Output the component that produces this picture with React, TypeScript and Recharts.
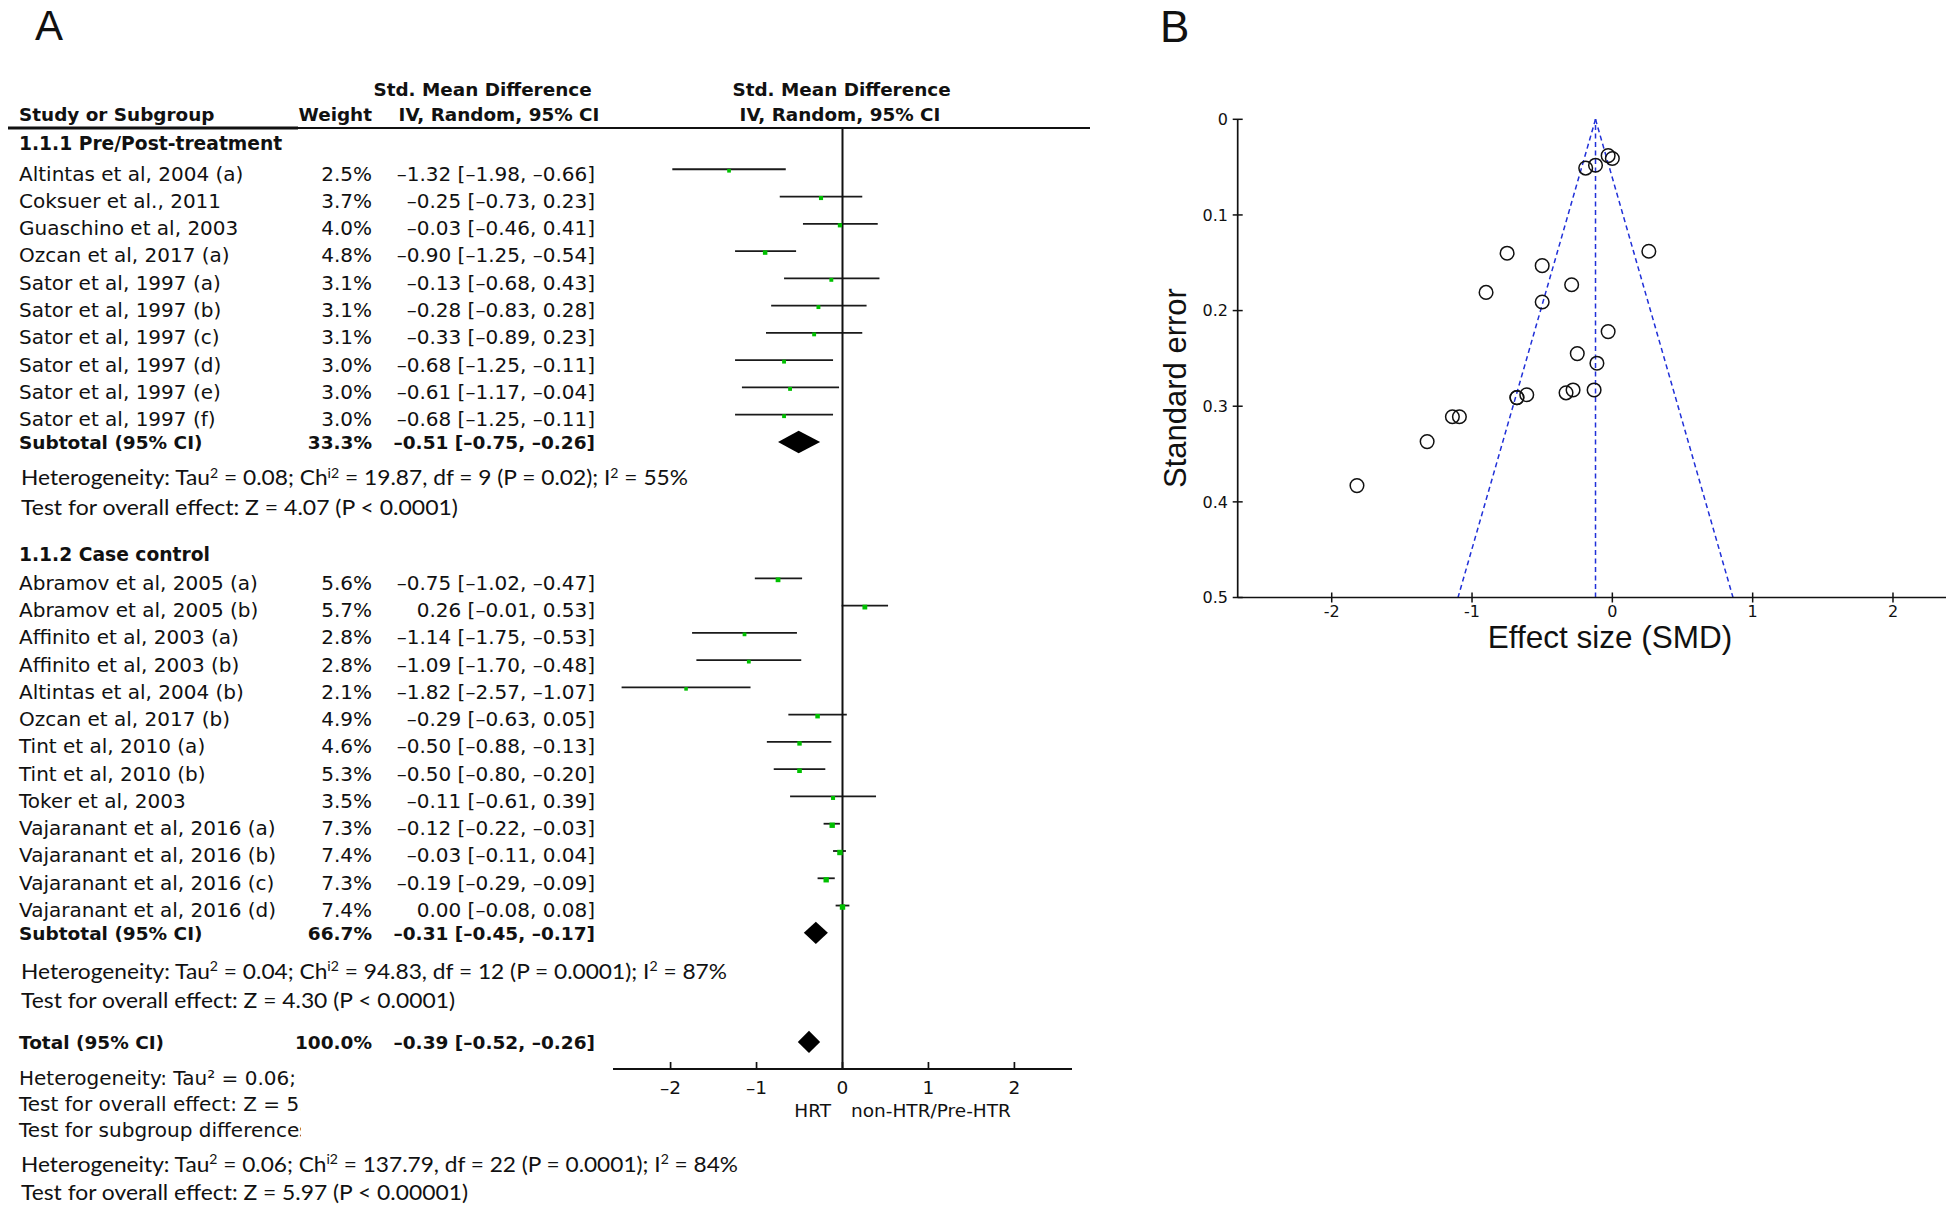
import React from 'react';
import { ComposedChart, ScatterChart, Scatter, XAxis, YAxis, ReferenceLine, ReferenceArea } from 'recharts';

// ---------------- Panel A data ----------------
const subgroupTitles = ['1.1.1 Pre/Post-treatment', '1.1.2 Case control'];

const preNames = [
  'Altintas et al, 2004 (a)', 'Coksuer et al., 2011', 'Guaschino et al, 2003', 'Ozcan et al, 2017 (a)',
  'Sator et al, 1997 (a)', 'Sator et al, 1997 (b)', 'Sator et al, 1997 (c)', 'Sator et al, 1997 (d)',
  'Sator et al, 1997 (e)', 'Sator et al, 1997 (f)',
];
const preWeights = [2.5, 3.7, 4.0, 4.8, 3.1, 3.1, 3.1, 3.0, 3.0, 3.0];
const preSmd = [-1.32, -0.25, -0.03, -0.90, -0.13, -0.28, -0.33, -0.68, -0.61, -0.68];
const preLower = [-1.98, -0.73, -0.46, -1.25, -0.68, -0.83, -0.89, -1.25, -1.17, -1.25];
const preUpper = [-0.66, 0.23, 0.41, -0.54, 0.43, 0.28, 0.23, -0.11, -0.04, -0.11];

const ccNames = [
  'Abramov et al, 2005 (a)', 'Abramov et al, 2005 (b)', 'Affinito et al, 2003 (a)', 'Affinito et al, 2003 (b)',
  'Altintas et al, 2004 (b)', 'Ozcan et al, 2017 (b)', 'Tint et al, 2010 (a)', 'Tint et al, 2010 (b)',
  'Toker et al, 2003', 'Vajaranant et al, 2016 (a)', 'Vajaranant et al, 2016 (b)', 'Vajaranant et al, 2016 (c)',
  'Vajaranant et al, 2016 (d)',
];
const ccWeights = [5.6, 5.7, 2.8, 2.8, 2.1, 4.9, 4.6, 5.3, 3.5, 7.3, 7.4, 7.3, 7.4];
const ccSmd = [-0.75, 0.26, -1.14, -1.09, -1.82, -0.29, -0.50, -0.50, -0.11, -0.12, -0.03, -0.19, 0.00];
const ccLower = [-1.02, -0.01, -1.75, -1.70, -2.57, -0.63, -0.88, -0.80, -0.61, -0.22, -0.11, -0.29, -0.08];
const ccUpper = [-0.47, 0.53, -0.53, -0.48, -1.07, 0.05, -0.13, -0.20, 0.39, -0.03, 0.04, -0.09, 0.08];

const subtotalWeights = [33.3, 66.7];
const subtotalSmd = [-0.51, -0.31];
const subtotalLower = [-0.75, -0.45];
const subtotalUpper = [-0.26, -0.17];

const totalWeight = [100.0];
const totalSmd = [-0.39];
const totalLower = [-0.52];
const totalUpper = [-0.26];

const hetTau2 = ['0.08', '0.04', '0.06'];
const hetChi2 = ['19.87', '94.83', '137.79'];
const hetDf = [9, 12, 22];
const hetP = ['0.02', '0.0001', '0.0001'];
const hetI2 = [55, 87, 84];
const overallZ = ['4.07', '4.30', '5.97'];
const overallP = ['P < 0.0001', 'P < 0.0001', 'P < 0.00001'];
// the three lines under "Total" are cut off at the column edge in the figure
const truncatedLines = ['Heterogeneity: Tau\u00B2 = 0.06; C', 'Test for overall effect: Z = 5.9', 'Test for subgroup differences'];

const forestTicks = [-2, -1, 0, 1, 2];
const favoursLabels = ['HRT', 'non-HTR/Pre-HTR'];

// ---------------- Panel B data ----------------
const funnelSmd = [
  -1.32, -0.25, -0.03, -0.90, -0.13, -0.28, -0.33, -0.68, -0.61, -0.68,
  -0.75, 0.26, -1.14, -1.09, -1.82, -0.29, -0.50, -0.50, -0.11, -0.12, -0.03, -0.19, 0.00,
];
const funnelSe = [
  0.337, 0.245, 0.222, 0.181, 0.283, 0.283, 0.286, 0.291, 0.288, 0.291,
  0.140, 0.138, 0.311, 0.311, 0.383, 0.173, 0.191, 0.153, 0.255, 0.048, 0.038, 0.051, 0.041,
];
const funnelTicksX = [-2, -1, 0, 1, 2];
const funnelTicksY = [0, 0.1, 0.2, 0.3, 0.4, 0.5];
const funnelCentre = -0.12;
const funnelMaxSe = 0.5;

// ---------------- layout (row slots) ----------------
const headerSlots = [0, 15.06];
const preFirstSlot = 1;
const ccFirstSlot = 16;
const subtotalSlots = [11, 29];
const totalSlot = 33;
const hetSlots = [12.33, 30.44];
const testSlots = [13.42, 31.5];
const forestDomain: [number, number] = [-0.513, 33.994];

const ROW_FONT = "'DejaVu Sans', Verdana, sans-serif";
const CAL_FONT = "Lato, 'Open Sans', sans-serif";
const ARIAL_FONT = "'Liberation Sans', Arial, sans-serif";
const INK = '#111';

const fmt = (v: number) => (v < 0 ? '\u2013' : '') + Math.abs(v).toFixed(2);
const ciText = (s: number, lo: number, hi: number) => `${fmt(s)} [${fmt(lo)}, ${fmt(hi)}]`;

type Row = {
  pos: number;
  kind: 'header' | 'study' | 'subtotal' | 'total' | 'het' | 'test';
  label?: string;
  weight?: number;
  smd?: number;
  lo?: number;
  hi?: number;
  idx?: number;
};

const forestRows: Row[] = [];
forestRows.push({ pos: headerSlots[0], kind: 'header', label: subgroupTitles[0] });
preNames.forEach((n, i) =>
  forestRows.push({ pos: preFirstSlot + i, kind: 'study', label: n, weight: preWeights[i], smd: preSmd[i], lo: preLower[i], hi: preUpper[i] }),
);
forestRows.push({ pos: subtotalSlots[0], kind: 'subtotal', label: 'Subtotal (95% CI)', weight: subtotalWeights[0], smd: subtotalSmd[0], lo: subtotalLower[0], hi: subtotalUpper[0] });
forestRows.push({ pos: hetSlots[0], kind: 'het', idx: 0 });
forestRows.push({ pos: testSlots[0], kind: 'test', idx: 0 });
forestRows.push({ pos: headerSlots[1], kind: 'header', label: subgroupTitles[1] });
ccNames.forEach((n, i) =>
  forestRows.push({ pos: ccFirstSlot + i, kind: 'study', label: n, weight: ccWeights[i], smd: ccSmd[i], lo: ccLower[i], hi: ccUpper[i] }),
);
forestRows.push({ pos: subtotalSlots[1], kind: 'subtotal', label: 'Subtotal (95% CI)', weight: subtotalWeights[1], smd: subtotalSmd[1], lo: subtotalLower[1], hi: subtotalUpper[1] });
forestRows.push({ pos: hetSlots[1], kind: 'het', idx: 1 });
forestRows.push({ pos: testSlots[1], kind: 'test', idx: 1 });
forestRows.push({ pos: totalSlot, kind: 'total', label: 'Total (95% CI)', weight: totalWeight[0], smd: totalSmd[0], lo: totalLower[0], hi: totalUpper[0] });

const studyRows = forestRows.filter((r) => r.kind === 'study');
const pooledRows = forestRows.filter((r) => r.kind === 'subtotal' || r.kind === 'total');
const studyPoints = studyRows.map((r) => ({ x: r.smd as number, y: r.pos, w: r.weight as number }));
const funnelPoints = funnelSmd.map((s, i) => ({ x: s, y: funnelSe[i] }));

// ---------------- text helpers ----------------
type Part = [string, boolean];
const hetParts = (i: number): Part[] => [
  ['Heterogeneity: Tau', false], ['2', true], [` = ${hetTau2[i]}; Ch`, false], ['i2', true],
  [` = ${hetChi2[i]}, df = ${hetDf[i]} (P = ${hetP[i]}); I`, false], ['2', true], [` = ${hetI2[i]}%`, false],
];
const testParts = (i: number): Part[] => [[`Test for overall effect: Z = ${overallZ[i]} (${overallP[i]})`, false]];
const hetLengths = [667, 706, 717];
const testLengths = [437, 434, 447];
const STAT_SIZE = 21;

const StatText = ({ x, y, parts, size, length }: { x: number; y: number; parts: Part[]; size: number; length?: number }) => {
  let shift = 0;
  return (
    <text x={x} y={y} fontFamily={CAL_FONT} fontSize={size} fill={INK} textLength={length} lengthAdjust="spacingAndGlyphs">
      {parts.map(([t, sup], k) => {
        const target = sup ? -7.5 : 0;
        const dy = target - shift;
        shift = target;
        return (
          <tspan key={k} dy={dy} fontSize={sup ? size * 0.62 : size}>
            {t}
          </tspan>
        );
      })}
    </text>
  );
};

const RowTick = (props: any) => {
  const { y, payload } = props;
  const row = forestRows.find((r) => Math.abs(r.pos - payload.value) < 1e-6);
  if (!row) return null;
  if (row.kind === 'header') {
    return (
      <text x={19} y={y + 8} fontFamily={ROW_FONT} fontWeight="bold" fontSize={18.7} fill={INK}>
        {row.label}
      </text>
    );
  }
  if (row.kind === 'study') {
    return (
      <g fontFamily={ROW_FONT} fontSize={20} fill={INK}>
        <text x={19} y={y + 11.4}>{row.label}</text>
        <text x={372} y={y + 11.4} textAnchor="end">{`${(row.weight as number).toFixed(1)}%`}</text>
        <text x={595} y={y + 11.4} textAnchor="end">{ciText(row.smd as number, row.lo as number, row.hi as number)}</text>
      </g>
    );
  }
  if (row.kind === 'subtotal' || row.kind === 'total') {
    return (
      <g fontFamily={ROW_FONT} fontSize={18.5} fontWeight="bold" fill={INK}>
        <text x={19} y={y + 7.3}>{row.label}</text>
        <text x={372} y={y + 7.3} textAnchor="end">{`${(row.weight as number).toFixed(1)}%`}</text>
        <text x={595} y={y + 7.3} textAnchor="end">{ciText(row.smd as number, row.lo as number, row.hi as number)}</text>
      </g>
    );
  }
  const i = row.idx as number;
  if (row.kind === 'het') return <StatText x={21} y={y + 6.8} parts={hetParts(i)} size={STAT_SIZE} length={hetLengths[i]} />;
  return <StatText x={21} y={y + 6.8} parts={testParts(i)} size={STAT_SIZE} length={testLengths[i]} />;
};

const ForestXTick = (props: any) => {
  const { x, y, payload } = props;
  const v = payload.value as number;
  return (
    <g>
      <line x1={x} x2={x} y1={y - 7} y2={y} stroke={INK} strokeWidth={1.7} />
      <text x={x} y={y + 25} textAnchor="middle" fontFamily={ROW_FONT} fontSize={18.5} fill={INK}>
        {v < 0 ? `\u2013${Math.abs(v)}` : `${v}`}
      </text>
    </g>
  );
};

const StudySquare = (props: any) => {
  const { cx, cy, payload } = props;
  const s = 2.8 + 0.35 * payload.w;
  return <rect x={cx - s / 2} y={cy + 1.5 - s / 2} width={s} height={s} fill="#00c000" />;
};

const DiamondShape = (p: any) => {
  const { x, y, width, height, frac } = p;
  const ax = x + width * frac;
  const my = y + height / 2;
  return <polygon points={`${x},${my} ${ax},${y} ${x + width},${my} ${ax},${y + height}`} fill="#000" />;
};

const FunnelYTick = (props: any) => {
  const { x, y, payload } = props;
  return (
    <g>
      <line x1={x - 5} x2={x + 5} y1={y} y2={y} stroke={INK} strokeWidth={1.5} />
      <text x={x - 9.7} y={y + 5.8} textAnchor="end" fontFamily={ROW_FONT} fontSize={16} fill={INK}>
        {String(payload.value)}
      </text>
    </g>
  );
};

const FunnelXTick = (props: any) => {
  const { x, y, payload } = props;
  return (
    <g>
      <line x1={x} x2={x} y1={y - 5} y2={y + 5} stroke={INK} strokeWidth={1.5} />
      <text x={x} y={y + 19.5} textAnchor="middle" fontFamily={ROW_FONT} fontSize={16} fill={INK}>
        {String(payload.value)}
      </text>
    </g>
  );
};

const FunnelCircle = (props: any) => {
  const { cx, cy } = props;
  return <circle cx={cx} cy={cy} r={6.8} fill="none" stroke={INK} strokeWidth={1.5} />;
};

const FUNNEL_BLUE = '#2030d8';
const AXIS_W = 1;

export default function App() {
  return (
    <div style={{ position: 'absolute', left: 0, top: 0, width: 1946, height: 1209, overflow: 'hidden', background: '#fff' }}>
      {/* Panel A: forest plot */}
      <div style={{ position: 'absolute', left: 0, top: 0 }}>
        <ComposedChart width={1100} height={1209} margin={{ top: 128, right: 28, bottom: 80, left: 613 - AXIS_W }}>
          <XAxis
            type="number"
            dataKey="x"
            domain={[-2.67, 2.67]}
            ticks={forestTicks}
            interval={0}
            tickLine={false}
            tickSize={0}
            tickMargin={0}
            height={60}
            axisLine={{ stroke: INK, strokeWidth: 1.8 }}
            tick={<ForestXTick />}
            allowDataOverflow
          />
          <YAxis
            type="number"
            dataKey="y"
            domain={forestDomain}
            reversed
            ticks={forestRows.map((r) => r.pos)}
            interval={0}
            width={AXIS_W}
            axisLine={false}
            tickLine={false}
            tickSize={0}
            tickMargin={0}
            tick={<RowTick />}
            allowDataOverflow
          />
          {studyRows.map((r, i) => (
            <ReferenceLine
              key={`ci${i}`}
              segment={[{ x: r.lo as number, y: r.pos }, { x: r.hi as number, y: r.pos }]}
              stroke="#1a1a1a"
              strokeWidth={1.8}
            />
          ))}
          <ReferenceLine x={0} stroke={INK} strokeWidth={2} />
          {pooledRows.map((r, i) => (
            <ReferenceArea
              key={`dm${i}`}
              x1={r.lo as number}
              x2={r.hi as number}
              y1={r.pos - 0.41}
              y2={r.pos + 0.41}
              shape={(p: any) => (
                <DiamondShape {...p} frac={((r.smd as number) - (r.lo as number)) / ((r.hi as number) - (r.lo as number))} />
              )}
            />
          ))}
          <Scatter data={studyPoints} shape={<StudySquare />} isAnimationActive={false} />
        </ComposedChart>
      </div>

      {/* Panel B: funnel plot */}
      <div style={{ position: 'absolute', left: 1100, top: 0 }}>
        <ScatterChart width={900} height={700} margin={{ top: 119.3, right: 13, bottom: 72.5, left: 137.7 - AXIS_W }}>
          <XAxis
            type="number"
            dataKey="x"
            domain={[-2.67, 2.67]}
            ticks={funnelTicksX}
            interval={0}
            tickLine={false}
            tickSize={0}
            tickMargin={0}
            height={30}
            axisLine={{ stroke: INK, strokeWidth: 1.7 }}
            tick={<FunnelXTick />}
            allowDataOverflow
          />
          <YAxis
            type="number"
            dataKey="y"
            domain={[0, funnelMaxSe]}
            reversed
            ticks={funnelTicksY}
            interval={0}
            width={AXIS_W}
            tickLine={false}
            tickSize={0}
            tickMargin={0}
            axisLine={{ stroke: INK, strokeWidth: 1.7 }}
            tick={<FunnelYTick />}
            allowDataOverflow
          />
          <ReferenceLine x={funnelCentre} stroke={FUNNEL_BLUE} strokeWidth={1.5} strokeDasharray="5 3.5" />
          <ReferenceLine
            segment={[{ x: funnelCentre, y: 0 }, { x: funnelCentre - 1.96 * funnelMaxSe, y: funnelMaxSe }]}
            stroke={FUNNEL_BLUE}
            strokeWidth={1.5}
            strokeDasharray="5 3.5"
          />
          <ReferenceLine
            segment={[{ x: funnelCentre, y: 0 }, { x: funnelCentre + 1.96 * funnelMaxSe, y: funnelMaxSe }]}
            stroke={FUNNEL_BLUE}
            strokeWidth={1.5}
            strokeDasharray="5 3.5"
          />
          <Scatter data={funnelPoints} shape={<FunnelCircle />} isAnimationActive={false} />
        </ScatterChart>
      </div>

      {/* Static text overlay */}
      <svg width={1946} height={1209} style={{ position: 'absolute', left: 0, top: 0, pointerEvents: 'none' }}>
        <defs>
          <clipPath id="truncClip">
            <rect x={0} y={1050} width={301} height={100} />
          </clipPath>
        </defs>
        <text x={35} y={39.5} fontFamily={ARIAL_FONT} fontSize={42} fill={INK}>A</text>
        <text x={1160} y={42} fontFamily={ARIAL_FONT} fontSize={44} fill={INK}>B</text>

        <g fontFamily={ROW_FONT} fontWeight="bold" fontSize={18.4} fill={INK}>
          <text x={482.5} y={96} textAnchor="middle">Std. Mean Difference</text>
          <text x={19} y={121}>Study or Subgroup</text>
          <text x={372} y={121} textAnchor="end">Weight</text>
          <text x={499} y={121} textAnchor="middle">IV, Random, 95% CI</text>
          <text x={841.5} y={96} textAnchor="middle">Std. Mean Difference</text>
          <text x={840} y={121} textAnchor="middle">IV, Random, 95% CI</text>
        </g>
        <line x1={8} x2={298} y1={128} y2={128} stroke={INK} strokeWidth={3.2} />
        <line x1={298} x2={1090} y1={128} y2={128} stroke={INK} strokeWidth={1.8} />

        <g fontFamily={ROW_FONT} fontSize={18.5} fill={INK}>
          <text x={831} y={1116.7} textAnchor="end">{favoursLabels[0]}</text>
          <text x={851} y={1116.7}>{favoursLabels[1]}</text>
        </g>

        <g clipPath="url(#truncClip)" fontFamily={ROW_FONT} fontSize={20} fill={INK}>
          <text x={19} y={1085.3}>{truncatedLines[0]}</text>
          <text x={19} y={1111.3}>{truncatedLines[1]}</text>
          <text x={19} y={1137.3}>{truncatedLines[2]}</text>
        </g>
        <StatText x={21} y={1171.5} parts={hetParts(2)} size={STAT_SIZE} length={hetLengths[2]} />
        <StatText x={21} y={1200} parts={testParts(2)} size={STAT_SIZE} length={testLengths[2]} />

        <text
          x={1186}
          y={388}
          transform="rotate(-90 1186 388)"
          textAnchor="middle"
          fontFamily={ARIAL_FONT}
          fontSize={31}
          fill={INK}
        >
          Standard error
        </text>
        <text x={1610} y={648} textAnchor="middle" fontFamily={ARIAL_FONT} fontSize={31.5} fill={INK}>
          Effect size (SMD)
        </text>
      </svg>
    </div>
  );
}
